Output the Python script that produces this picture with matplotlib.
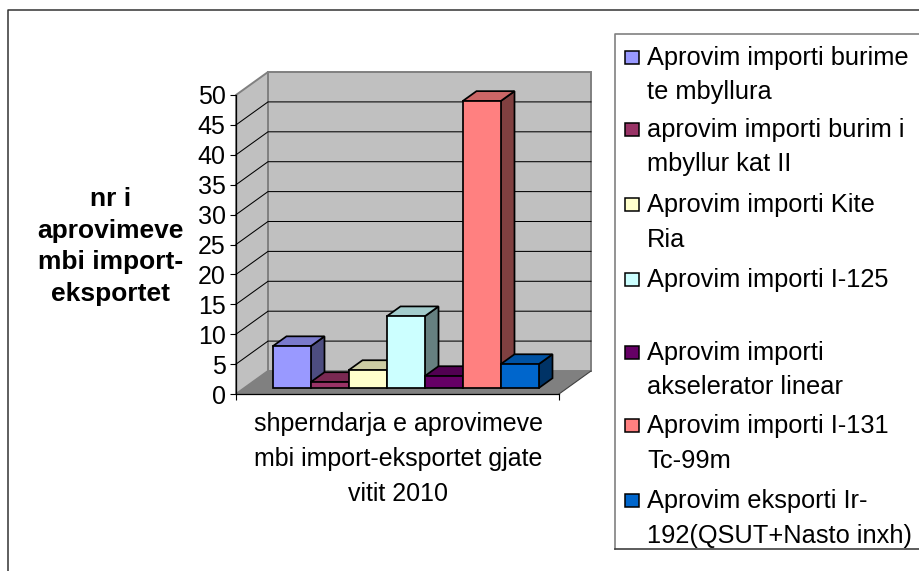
import matplotlib
matplotlib.use("Agg")
import matplotlib.pyplot as plt
from matplotlib.patches import Polygon, Rectangle
from matplotlib.transforms import IdentityTransform

plt.rcParams['font.family'] = ['Liberation Sans', 'DejaVu Sans']

# Chart data
series_values = [7, 1, 3, 12, 2, 48, 4]
series_colors = ['#9999FF', '#993366', '#FFFFCC', '#CCFFFF', '#660066', '#FF8080', '#0066CC']
top_colors = ['#7A7ACC', '#7A2952', '#CCCCA3', '#A3CCCC', '#520052', '#CC6666', '#0052A3']
side_colors = ['#4D4D80', '#4D1A33', '#808066', '#668080', '#330033', '#804040', '#003366']
y_ticks = [0, 5, 10, 15, 20, 25, 30, 35, 40, 45, 50]
legend_labels = [
    ['Aprovim importi burime', 'te mbyllura'],
    ['aprovim importi burim i', 'mbyllur kat II'],
    ['Aprovim importi Kite', 'Ria'],
    ['Aprovim importi I-125'],
    ['Aprovim importi', 'akselerator linear'],
    ['Aprovim importi I-131', 'Tc-99m'],
    ['Aprovim eksporti Ir-', '192(QSUT+Nasto inxh)'],
]
legend_y = [57, 129, 204, 279, 352, 425, 500]
x_title = 'shperndarja e aprovimeve\nmbi import-eksportet gjate\nvitit 2010'
y_title = 'nr i\naprovimeve\nmbi import-\neksportet'

W, H = 919, 571
FONT = 18.0
LEGEND_FONT = 18.3


def fx(x):
    return x / W


def fy(y):
    return 1 - y / H


fig = plt.figure(figsize=(W / 100, H / 100), dpi=100, facecolor='white')

# Outer chart frame, runs off the picture on the right and bottom
fig.add_artist(plt.Line2D([fx(8), fx(8), fx(919)], [fy(571), fy(10), fy(10)],
                          color='#333333', lw=1.1))

# Front plane of the 3D box
ax = fig.add_axes([fx(236), fy(394), 323 / W, 299 / H])
ax.patch.set_visible(False)
ax.set_xlim(0, 1)
ax.set_ylim(0, 50)
ax.set_yticks(y_ticks)
ax.set_xticks([0, 1])
ax.set_xticklabels([])
ax.tick_params(axis='y', length=4.5, width=0.8, pad=3, labelsize=FONT)
ax.tick_params(axis='x', length=4.5, width=0.8)
ax.spines['top'].set_visible(False)
ax.spines['right'].set_visible(False)
for s in ['left', 'bottom']:
    ax.spines[s].set_linewidth(0.9)

DEPTH_X, DEPTH_Y = 32, 23


def pt(x, y, d):
    # data point pushed back by d (0 front, 1 back wall), in pixels
    px, py = ax.transData.transform((x, y))
    return (px + d * DEPTH_X, py + d * DEPTH_Y)


def poly(points, color, edge='none', lw=0.0, z=1):
    p = Polygon(points, closed=True, facecolor=color, edgecolor=edge, linewidth=lw,
                transform=IdentityTransform(), clip_on=False, zorder=z, joinstyle='miter')
    ax.add_patch(p)


# Walls and floor
poly([pt(0, 0, 1), pt(1, 0, 1), pt(1, 50, 1), pt(0, 50, 1)], '#C0C0C0', '#808080', 1.4, 1)
poly([pt(0, 0, 0), pt(0, 0, 1), pt(0, 50, 1), pt(0, 50, 0)], '#C0C0C0', '#808080', 1.4, 1)
poly([pt(0, 0, 0), pt(1, 0, 0), pt(1, 0, 1), pt(0, 0, 1)], '#808080', 'none', 0, 1.5)
a, b = pt(1, 0, 0), pt(1, 0, 1)
ax.plot([a[0], b[0]], [a[1], b[1]], color='#404040', lw=0.8, transform=IdentityTransform(),
        clip_on=False, zorder=1.6)

# Gridlines on the side wall and the back wall
for v in y_ticks[1:-1]:
    p0, p1, p2 = pt(0, v, 0), pt(0, v, 1), pt(1, v, 1)
    ax.plot([p0[0], p1[0], p2[0]], [p0[1], p1[1], p2[1]], color='black', lw=0.75,
            transform=IdentityTransform(), clip_on=False, zorder=2)

# Bars
bar_w = 1 / (len(series_values) + 1.5)
D0, D1 = 0.25, 0.6875
for i, v in enumerate(series_values):
    x0 = bar_w * (0.75 + i)
    x1 = x0 + bar_w
    z = 3 + i * 0.1
    poly([pt(x1, 0, D0), pt(x1, 0, D1), pt(x1, v, D1), pt(x1, v, D0)], side_colors[i], 'black', 1.25, z)
    poly([pt(x0, v, D0), pt(x1, v, D0), pt(x1, v, D1), pt(x0, v, D1)], top_colors[i], 'black', 1.25, z)
    poly([pt(x0, 0, D0), pt(x1, 0, D0), pt(x1, v, D0), pt(x0, v, D0)], series_colors[i], 'black', 1.25, z)

# Axis titles
fig.text(fx(398), fy(459), x_title, ha='center', va='center', fontsize=FONT, linespacing=1.56)
fig.text(fx(110.5), fy(246.5), y_title, ha='center', va='center', fontsize=19.0, fontweight='bold',
         linespacing=1.4)

# Legend, drawn by hand because the handles sit on the first line of each entry
# The box runs off the picture on the right, bottom edge is darker
fig.add_artist(plt.Line2D([fx(615), fx(615), fx(919)], [fy(549), fy(34), fy(34)],
                          color='#808080', lw=1.2))
fig.add_artist(plt.Line2D([fx(615), fx(919)], [fy(549), fy(549)], color='#404040', lw=1.2))
for lines, y, color in zip(legend_labels, legend_y, series_colors):
    fig.add_artist(Rectangle((fx(625), fy(y + 6.5)), 13.5 / W, 13 / H, transform=fig.transFigure,
                             facecolor=color, edgecolor='black', linewidth=1.1))
    for j, line in enumerate(lines):
        fig.text(fx(647), fy(y + 1 + j * 34.5), line, ha='left', va='center', fontsize=LEGEND_FONT)

fig.savefig('out.png', dpi=100)
